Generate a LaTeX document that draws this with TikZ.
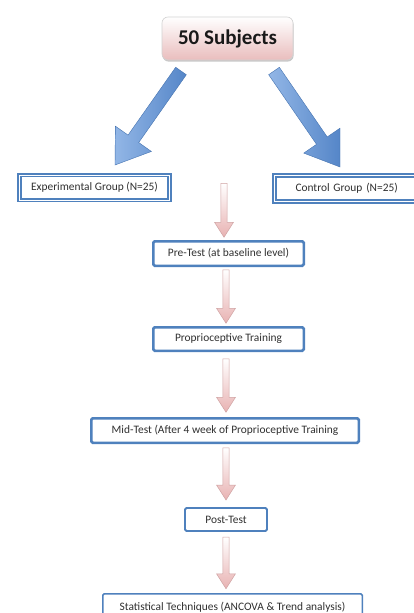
\documentclass[tikz,border=0pt]{standalone}
\usepackage{fontspec}
\setmainfont{Carlito}
\usetikzlibrary{calc,shadows}
\definecolor{boxblue}{HTML}{4F81BD}
\definecolor{arrblueL}{HTML}{92B6E6}
\definecolor{arrblueD}{HTML}{5586C8}
\definecolor{arrblueE}{HTML}{4573B0}
\definecolor{pinkB}{HTML}{E8B2B2}
\definecolor{pinkE}{HTML}{CFA3A3}
\definecolor{subjpink}{HTML}{E9BDBD}
\definecolor{txt}{HTML}{303030}
% #1 style, #2 start, #3 end, #4 half shaft width, #5 half head width, #6 head length
\newcommand{\blkarrow}[6][]{%
  \coordinate (ba-h) at ($(#3)!#6!(#2)$);
  \path[#1] ($(#2)!#4!90:(#3)$) -- ($(ba-h)!#4!90:(#3)$) -- ($(ba-h)!#5!90:(#3)$) -- (#3)
    -- ($(ba-h)!#5!-90:(#3)$) -- ($(ba-h)!#4!-90:(#3)$) -- ($(#2)!#4!-90:(#3)$) -- cycle;
}
\begin{document}
\begin{tikzpicture}[x=1pt,y=-1pt,
  every node/.style={outer sep=0pt, inner sep=0pt},
  smalltext/.style={font=\fontsize{11.4}{13}\selectfont, text=txt},
  stepbox/.style={smalltext, draw=boxblue, line width=2.5pt, rounded corners=1.5pt, fill=white},
  groupbox/.style={smalltext, draw=boxblue, line width=1.9pt, double=white, double distance=1pt, fill=white},
  subjbox/.style={rounded corners=6pt, top color=white, bottom color=subjpink, draw=gray!35, line width=0.6pt,
     drop shadow={shadow xshift=0.6pt, shadow yshift=-1.6pt, opacity=.55, fill=gray!80},
     font=\bfseries\fontsize{21}{24}\selectfont, text=black!90},
  pinkarrow/.style={top color=white, bottom color=pinkB, draw=pinkE, line width=0.5pt},
  bluearrow/.style={left color=arrblueL, right color=arrblueD, draw=arrblueE, line width=0.4pt}]
\useasboundingbox (0,0) rectangle (414,613);
\clip (0,0) rectangle (414,613);
% nodes
\node[subjbox, minimum width=131pt, minimum height=43pt] (subj) at (227.5,38.5) {50 Subjects};
\node[groupbox, minimum width=150pt, minimum height=25pt] (exp) at (94.5,187.5) {Experimental Group (N=25)};
\node[groupbox, minimum width=152pt, minimum height=26pt, text width=152pt, align=left] (ctrl) at (350.5,188.5) {\hspace*{21pt}Control Group (N=25)};
\node[stepbox, minimum width=150.5pt, minimum height=24.5pt] (pre) at (228.5,253.5) {Pre-Test (at baseline level)};
\node[stepbox, minimum width=150.5pt, minimum height=23.5pt] (prop) at (228.5,339) {Proprioceptive Training};
\node[stepbox, minimum width=267.5pt, minimum height=24.5pt] (mid) at (225,430.5) {Mid-Test (After 4 week of Proprioceptive Training};
\node[stepbox, line width=1.8pt, minimum width=82pt, minimum height=23pt] (post) at (226,519.5) {Post-Test};
\node[stepbox, line width=1.5pt, minimum width=259.5pt, minimum height=26pt, text depth=0pt] (stat) at (232.5,606.75) {\raisebox{1.5pt}{Statistical Techniques (ANCOVA \& Trend analysis)}};
% arrow end coordinates
\path (subj.south) ++(-46.5,11) coordinate (bls);
\path (exp.north) ++(20.5,-10) coordinate (ble);
\path (subj.south) ++(46.5,11) coordinate (brs);
\path (ctrl.north) ++(-10.5,-8.5) coordinate (bre);
\path (pre.north) ++(-4.5,-58) coordinate (a1s);
\path (pre.north) ++(-4.5,-4) coordinate (a1e);
\path (pre.south) ++(-2.5,4) coordinate (a2s);
\path (prop.north) ++(-2.5,-4) coordinate (a2e);
\path (prop.south) ++(-2.5,8) coordinate (a3s);
\path (mid.north) ++(1,-6) coordinate (a3e);
\path (mid.south) ++(1,5) coordinate (a4s);
\path (post.north) ++(0,-8) coordinate (a4e);
\path (post.south) ++(0,6) coordinate (a5s);
\path (stat.north) ++(-6.5,-5) coordinate (a5e);
% arrows
\blkarrow[bluearrow]{bls}{ble}{6.5pt}{22pt}{32pt}
\blkarrow[bluearrow]{brs}{bre}{6.5pt}{22pt}{32pt}
\blkarrow[pinkarrow]{a1s}{a1e}{3.2pt}{9.5pt}{15pt}
\blkarrow[pinkarrow]{a2s}{a2e}{3.2pt}{9.5pt}{15pt}
\blkarrow[pinkarrow]{a3s}{a3e}{3.2pt}{9.5pt}{15pt}
\blkarrow[pinkarrow]{a4s}{a4e}{3.2pt}{9.5pt}{15pt}
\blkarrow[pinkarrow]{a5s}{a5e}{3.2pt}{9.5pt}{15pt}
\end{tikzpicture}
\end{document}
